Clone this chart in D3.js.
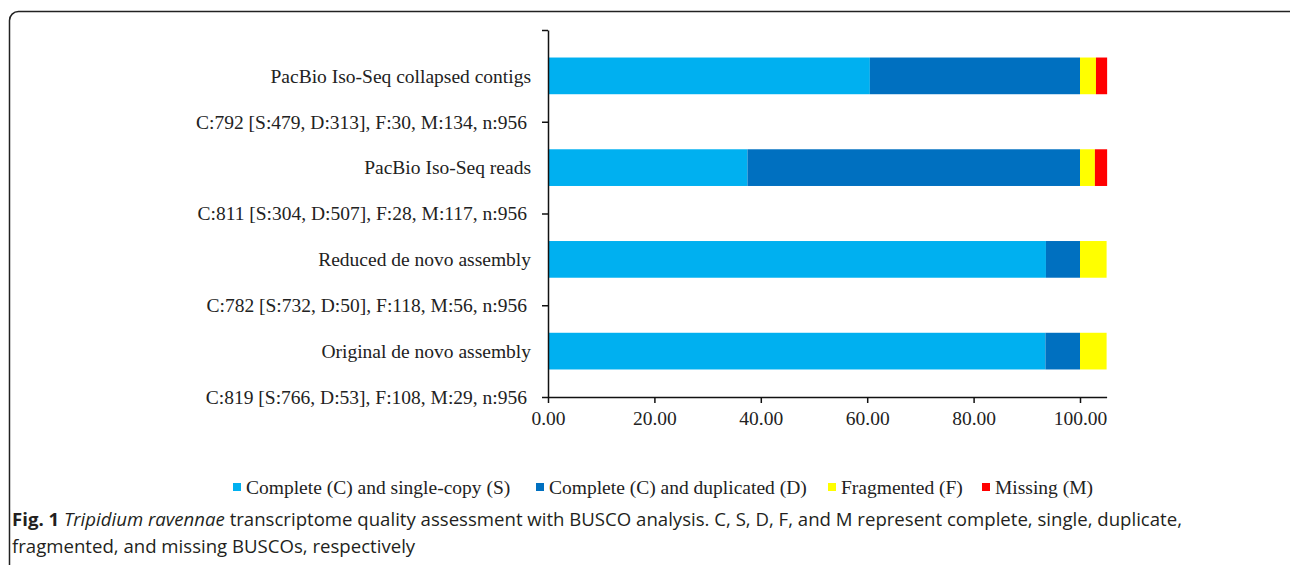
<!DOCTYPE html>
<html>
<head>
<meta charset="utf-8">
<script src="https://cdn.jsdelivr.net/npm/d3@7"></script>
<style>
  body { margin: 0; background: #fff; }
  svg { display: block; }
</style>
</head>
<body>
<div id="chart"></div>
<script>
// BUSCO categories (top to bottom) and the stats line under each bar
var categories = ["PacBio Iso-Seq collapsed contigs", "PacBio Iso-Seq reads", "Reduced de novo assembly", "Original de novo assembly"];
var statLabels = [
  "C:792 [S:479, D:313], F:30, M:134, n:956",
  "C:811 [S:304, D:507], F:28, M:117, n:956",
  "C:782 [S:732, D:50], F:118, M:56, n:956",
  "C:819 [S:766, D:53], F:108, M:29, n:956"
];
var single     = [60.5, 37.5, 93.6, 93.5];
var duplicated = [39.5, 62.5, 6.4, 6.5];
var fragmented = [3.0, 2.8, 5.0, 5.0];
var missing    = [2.1, 2.3, 0, 0];
var xTicks = [0, 20, 40, 60, 80, 100];
var legendLabels = ["Complete (C) and single-copy (S)", "Complete (C) and duplicated (D)", "Fragmented (F)", "Missing (M)"];
var keys = ["S", "D", "F", "M"];
var colors = ["#00B0F0", "#0070C0", "#FFFF00", "#FF0000"];

var width = 1290, height = 565;
var fontSerif = "Liberation Serif, Times New Roman, serif";
var fs = 19.5;

var svg = d3.select("#chart").append("svg")
    .attr("width", width)
    .attr("height", height);

// rounded frame
svg.append("rect")
    .attr("x", 9.5).attr("y", 11.5)
    .attr("width", 1290).attr("height", 600)
    .attr("rx", 9).attr("ry", 9)
    .attr("fill", "none")
    .attr("stroke", "#222")
    .attr("stroke-width", 1.5);

var table = categories.map(function(c, i) {
    return {cat: c, S: single[i], D: duplicated[i], F: fragmented[i], M: missing[i]};
});

var x = d3.scaleLinear().domain([0, 105]).range([548, 1106.6]);
var y = d3.scaleBand().domain(categories).range([30, 397]).paddingInner(0.6).paddingOuter(0.3);
var yEdge = d3.scaleLinear().domain([0, categories.length]).range([30, 397]);
var color = d3.scaleOrdinal().domain(keys).range(colors);

// bars
svg.append("g")
  .selectAll("g")
  .data(d3.stack().keys(keys)(table))
  .enter().append("g")
    .attr("fill", function(d) { return color(d.key); })
  .selectAll("rect")
  .data(function(d) { return d; })
  .enter().append("rect")
    .attr("x", function(d) { return x(d[0]); })
    .attr("y", function(d) { return y(d.data.cat); })
    .attr("width", function(d) { return x(d[1]) - x(d[0]); })
    .attr("height", y.bandwidth());

// y axis, ticks at band edges
var yAxis = svg.append("g")
    .attr("transform", "translate(548,0)")
    .call(d3.axisLeft(yEdge).tickValues(d3.range(categories.length + 1)).tickFormat("").tickSize(6).tickSizeOuter(0));
yAxis.selectAll("path, line").attr("stroke", "#111").attr("stroke-width", 1.5);

// x axis
var xAxis = svg.append("g")
    .attr("transform", "translate(0,397)")
    .call(d3.axisBottom(x).tickValues(xTicks).tickFormat(d3.format(".2f")).tickSize(6).tickSizeOuter(0));
xAxis.selectAll("path, line").attr("stroke", "#111").attr("stroke-width", 1.5);
xAxis.selectAll("text")
    .attr("font-family", fontSerif)
    .attr("font-size", fs)
    .attr("fill", "#222")
    .attr("y", 14)
    .attr("dy", "0.71em");

// category names at bar centres
svg.append("g").selectAll("text")
  .data(categories)
  .enter().append("text")
    .attr("x", 531)
    .attr("y", function(d) { return y(d) + y.bandwidth() / 2; })
    .attr("dy", "0.35em")
    .attr("text-anchor", "end")
    .attr("font-family", fontSerif)
    .attr("font-size", fs)
    .attr("fill", "#222")
    .text(function(d) { return d; });

// stats at the lower band edge
svg.append("g").selectAll("text")
  .data(statLabels)
  .enter().append("text")
    .attr("x", 527)
    .attr("y", function(d, i) { return yEdge(i + 1); })
    .attr("dy", "0.35em")
    .attr("text-anchor", "end")
    .attr("font-family", fontSerif)
    .attr("font-size", fs)
    .attr("fill", "#222")
    .text(function(d) { return d; });

// legend
var legendX = [233, 536, 828, 982];
var legend = svg.append("g").selectAll("g")
  .data(legendLabels)
  .enter().append("g")
    .attr("transform", function(d, i) { return "translate(" + legendX[i] + ",487)"; });
legend.append("rect")
    .attr("x", 0).attr("y", -4)
    .attr("width", 8).attr("height", 8)
    .attr("fill", function(d, i) { return colors[i]; });
legend.append("text")
    .attr("x", 13)
    .attr("dy", "0.35em")
    .attr("font-family", fontSerif)
    .attr("font-size", fs)
    .attr("fill", "#222")
    .text(function(d) { return d; });

// caption
var cap = svg.append("text")
    .attr("x", 12).attr("y", 526)
    .attr("font-family", "Open Sans, sans-serif")
    .attr("font-size", 18.6)
    .attr("fill", "#231f20");
cap.append("tspan").attr("font-weight", "bold").text("Fig. 1");
cap.append("tspan").attr("font-style", "italic").text(" Tripidium ravennae");
cap.append("tspan").text(" transcriptome quality assessment with BUSCO analysis. C, S, D, F, and M represent complete, single, duplicate,");
svg.append("text")
    .attr("x", 12).attr("y", 553)
    .attr("font-family", "Open Sans, sans-serif")
    .attr("font-size", 18.6)
    .attr("fill", "#231f20")
    .text("fragmented, and missing BUSCOs, respectively");
</script>
</body>
</html>
